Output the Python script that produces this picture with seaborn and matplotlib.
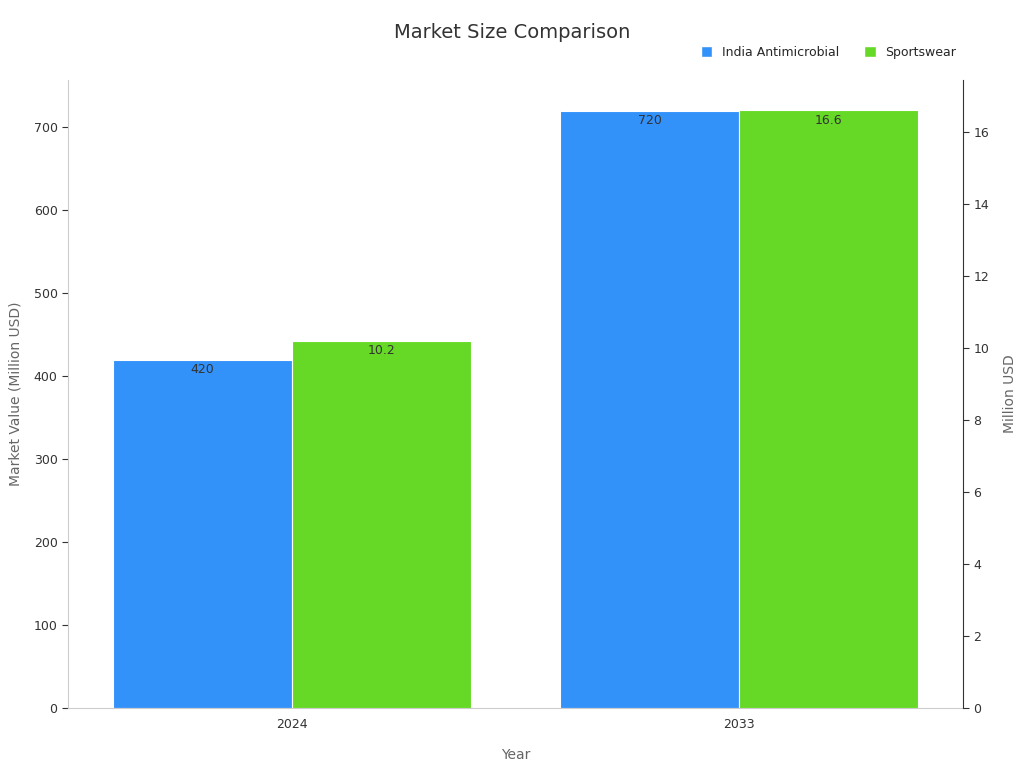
import matplotlib
matplotlib.use("Agg")
import matplotlib.pyplot as plt
import seaborn as sns
import pandas as pd
import numpy as np
from matplotlib.patches import Patch

years = ["2024", "2033"]
india = [420, 720]
sports = [10.2, 16.6]
series = ["India Antimicrobial", "Sportswear"]
colors = ["#3292FA", "#66D926"]

sns.set_style("white")
plt.rcParams['font.family'] = ['DejaVu Sans']

df1 = pd.DataFrame({"Year": years * 2, "S": [series[0]] * 2 + [series[1]] * 2,
                    "V": india + [np.nan, np.nan]})
df2 = pd.DataFrame({"Year": years * 2, "S": [series[0]] * 2 + [series[1]] * 2,
                    "V": [np.nan, np.nan] + sports})

fig = plt.figure(figsize=(10.24, 7.68), dpi=100)
ax = fig.add_axes([68/1024, 60/768, (963-68)/1024, (708-80)/768])
ax2 = ax.twinx()
sns.barplot(data=df1, x="Year", y="V", hue="S", hue_order=series, palette=colors,
            ax=ax, width=0.8, legend=False, edgecolor="white", linewidth=0.8, saturation=1)
sns.barplot(data=df2, x="Year", y="V", hue="S", hue_order=series, palette=colors,
            ax=ax2, width=0.8, legend=False, edgecolor="white", linewidth=0.8, saturation=1)
ax.set_xlim(-0.5, 1.5)
ax.set_ylim(0, 757)
ax2.set_ylim(0, 17.44)
ax.set_yticks(range(0, 701, 100))
ax2.set_yticks(range(0, 17, 2))

for a, fmt in [(ax, "{:.0f}"), (ax2, "{:.1f}")]:
    for c in a.containers:
        labels = [fmt.format(p.get_height()) if not np.isnan(p.get_height()) else "" for p in c]
        a.bar_label(c, labels=labels, label_type="edge", padding=-12, fontsize=9, color="#333333")

ax.set_xlabel("Year", fontsize=10, color="#666666", labelpad=12)
ax.set_ylabel("Market Value (Million USD)", fontsize=10, color="#666666", labelpad=8)
ax2.set_ylabel("Million USD", fontsize=10, color="#666666", labelpad=10)
for a in (ax, ax2):
    a.tick_params(axis="both", labelsize=9, colors="#333333", length=4)
    a.spines["top"].set_visible(False)
ax.spines["left"].set_color("#cccccc")
ax.spines["bottom"].set_color("#cccccc")
ax.spines["right"].set_visible(False)
ax2.spines["left"].set_visible(False)
ax2.spines["bottom"].set_visible(False)
ax2.spines["right"].set_color("#333333")

fig.suptitle("Market Size Comparison", y=0.97, fontsize=14, color="#333333")
handles = [Patch(facecolor=c, label=s) for c, s in zip(colors, series)]
fig.legend(handles=handles, loc="upper right", bbox_to_anchor=(0.945, 0.955), ncol=2,
           frameon=False, fontsize=9, handlelength=0.9, handleheight=0.9, columnspacing=2)
fig.savefig("out.png", dpi=100)
